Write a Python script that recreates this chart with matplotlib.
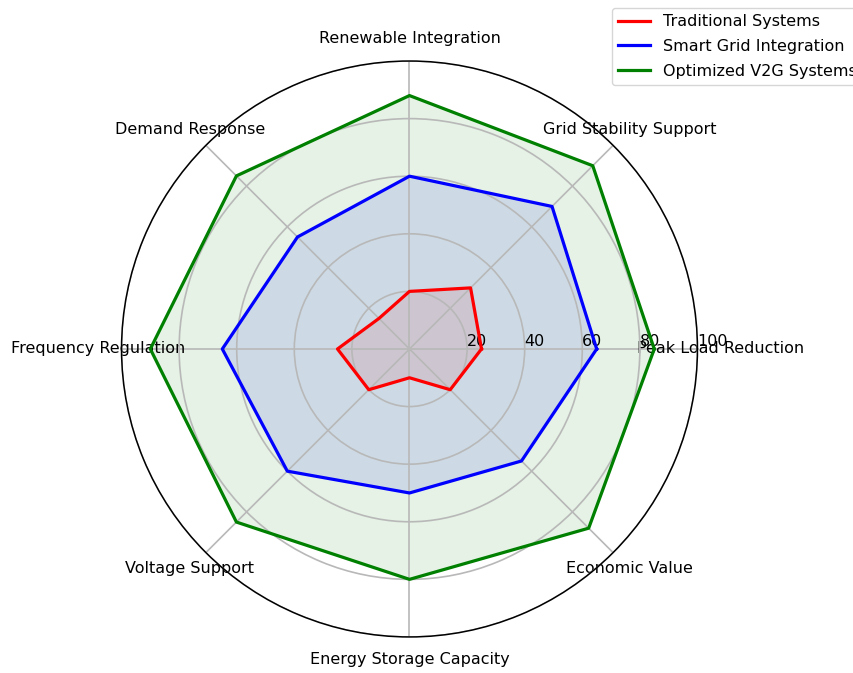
import numpy as np
import matplotlib
matplotlib.use("Agg")
import matplotlib.pyplot as plt

categories = ["Peak Load Reduction", "Grid Stability Support", "Renewable Integration",
              "Demand Response", "Frequency Regulation", "Voltage Support",
              "Energy Storage Capacity", "Economic Value"]
traditional = [25, 30, 20, 15, 25, 20, 10, 20]
smart_grid = [65, 70, 60, 55, 65, 60, 50, 55]
optimized_v2g = [85, 90, 88, 85, 90, 85, 80, 88]
series_names = ["Traditional Systems", "Smart Grid Integration", "Optimized V2G Systems"]
series_colors = ["red", "blue", "green"]
r_ticks = [20, 40, 60, 80, 100]

fs = 11.5
fig = plt.figure(figsize=(8.54, 6.73), dpi=100)
ax = fig.add_axes([0.1423, 0.0535, 0.6744, 0.8559], projection="polar")

n = len(categories)
angles = np.linspace(0, 2 * np.pi, n, endpoint=False).tolist()
angles_closed = angles + angles[:1]

for name, vals, col in zip(series_names, [traditional, smart_grid, optimized_v2g], series_colors):
    v = list(vals) + [vals[0]]
    ax.plot(angles_closed, v, color=col, linewidth=2.3, label=name)
    ax.fill(angles_closed, v, color=col, alpha=0.1)

ax.set_xticks(angles)
ax.set_xticklabels(categories, fontsize=fs)
ax.tick_params(axis="x", pad=6)
ax.set_ylim(0, 100)
ax.set_yticks(r_ticks)
ax.set_yticklabels([str(t) for t in r_ticks], fontsize=fs)
ax.set_rlabel_position(0)
ax.grid(True, color="#b8b8b8", linewidth=1.2)
ax.spines["polar"].set_linewidth(1.1)

ax.legend(loc="upper left", bbox_to_anchor=(0.7166, 0.988), bbox_transform=fig.transFigure,
          borderaxespad=0, fontsize=fs, labelspacing=0.6)

fig.savefig("out.png", dpi=100)
